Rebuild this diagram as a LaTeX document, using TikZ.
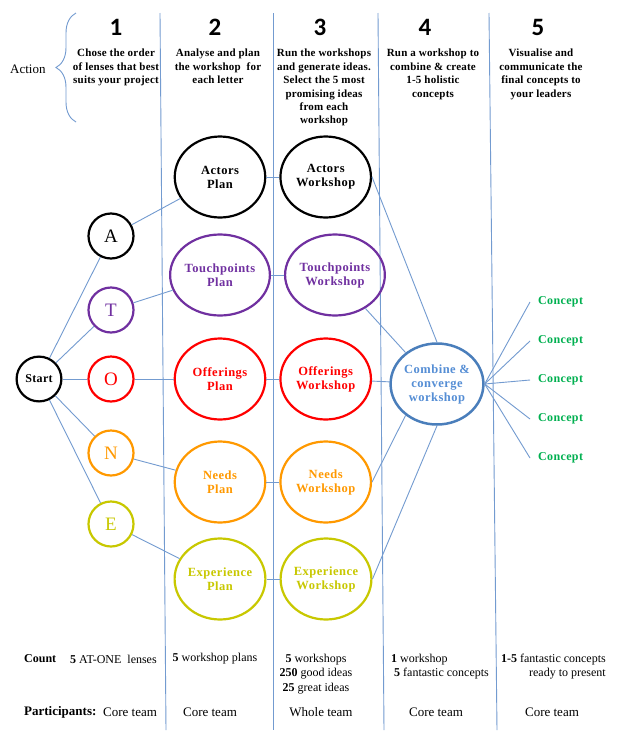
\documentclass[tikz,border=0pt]{standalone}
\usepackage{fontspec}
\setmainfont{Liberation Serif}
\newfontfamily\numfont{Carlito}
\usepackage{xcolor}
\definecolor{lnblue}{RGB}{115,155,208}
\definecolor{atpurple}{RGB}{112,48,160}
\definecolor{atred}{RGB}{255,0,0}
\definecolor{atorange}{RGB}{255,153,0}
\definecolor{atyellow}{RGB}{200,200,0}
\definecolor{atgreen}{RGB}{0,176,80}
\definecolor{combblue}{RGB}{74,126,187}
\definecolor{combtext}{RGB}{85,142,213}
\usetikzlibrary{positioning,shapes.geometric,decorations.pathreplacing}

\begin{document}
\begin{tikzpicture}[x=1pt,y=-1pt,
  lens/.style={circle,draw,line width=2.2pt,minimum size=45pt,inner sep=0pt,font=\fontsize{19}{19}\selectfont},
  oval/.style={ellipse,draw,line width=2.2pt,minimum width=90.5pt,minimum height=81pt,inner sep=0pt,align=center,
    font=\fontsize{12.5}{14}\selectfont\bfseries\addfontfeature{LetterSpace=4}},
  ln/.style={lnblue,line width=0.9pt},
  col/.style={align=center,inner sep=0pt,anchor=north,font=\fontsize{11}{13.4}\selectfont\bfseries\addfontfeature{LetterSpace=2}},
  num/.style={inner sep=0pt,font=\numfont\bfseries\fontsize{25}{25}\selectfont},
  cnt/.style={inner sep=0pt,font=\fontsize{12}{14.5}\selectfont},
  cpt/.style={anchor=west,inner xsep=8pt,inner ysep=2pt,atgreen,font=\fontsize{12}{12}\selectfont\bfseries\addfontfeature{LetterSpace=3}},
]
\fill[white] (0,0) rectangle (621,734);

% column rules and the action brace
\draw[ln] (160,13) -- (166,730);
\draw[ln] (273,13) -- (273,730);
\draw[ln] (378,13) -- (384,730);
\draw[ln] (489,13) -- (497,730);
\draw[ln,decorate,decoration={brace,amplitude=20pt,aspect=0.5}] (76,122) -- (76,13);
\node[anchor=west,inner sep=0pt,font=\fontsize{13}{13}\selectfont] (act) at (10,69) {Action};

\node[num] (n1) at (116,27) {1};
\node[num] (n2) at (215,27) {2};
\node[num] (n3) at (320,27) {3};
\node[num] (n4) at (425,27) {4};
\node[num] (n5) at (538,27) {5};

\node[col] (d1) at (116,49) {Chose the order\\of lenses that best\\suits your project};
\node[col] (d2) at (218,49) {Analyse and plan\\the workshop\ \ for\\each letter};
\node[col] (d3) at (324,49) {Run the workshops\\and generate ideas.\\Select the 5 most\\promising ideas\\from each\\workshop};
\node[col] (d4) at (433,49) {Run a workshop to\\combine \& create\\1-5 holistic\\concepts};
\node[col] (d5) at (541,49) {Visualise and\\communicate the\\final concepts to\\your leaders};

% lenses
\node[lens,minimum size=44.8pt,font=\fontsize{12}{12}\selectfont\bfseries\addfontfeature{LetterSpace=3}] (start) at (39,379) {Start};
\node[lens] (la) at (111,236) {A};
\node[lens,atpurple] (lt) at (111,310) {T};
\node[lens,atred] (lo) at (111,379) {O};
\node[lens,atorange] (lnn) at (111,453) {N};
\node[lens,atyellow] (le) at (111,524) {E};

% plans and workshops
\node[oval] (ap) at (220,177) {Actors\\Plan};
\node[oval,atpurple] (tp) at (220,275) {Touchpoints\\Plan};
\node[oval,atred] (op) at (220,379) {Offerings\\Plan};
\node[oval,atorange] (np) at (220,482) {Needs\\Plan};
\node[oval,atyellow] (ep) at (220,579) {Experience\\Plan};
\node[oval,right=13pt of ap] (aw) {Actors\\Workshop};
\node[oval,atpurple,right=13pt of tp] (tw) {Touchpoints\\Workshop};
\node[oval,atred,right=13pt of op] (ow) {Offerings\\Workshop};
\node[oval,atorange,right=13pt of np] (nw) {Needs\\Workshop};
\node[oval,atyellow,right=13pt of ep] (ew) {Experience\\Workshop};

\node[oval,draw=combblue,text=combtext,line width=2.5pt,minimum width=89.5pt] (comb) at (437,384) {Combine \&\\converge\\workshop};

\node[cpt] (c1) at (530,302) {Concept};
\node[cpt] (c2) at (530,341) {Concept};
\node[cpt] (c3) at (530,380) {Concept};
\node[cpt] (c4) at (530,419) {Concept};
\node[cpt] (c5) at (530,458) {Concept};

\draw[ln] (start) -- (la);
\draw[ln] (start) -- (lt);
\draw[ln] (start) -- (lo);
\draw[ln] (start) -- (lnn);
\draw[ln] (start) -- (le);
\draw[ln] (la) -- (ap);
\draw[ln] (lt) -- (tp);
\draw[ln] (lo) -- (op);
\draw[ln] (lnn) -- (np);
\draw[ln] (le) -- (ep);
\draw[ln] (ap) -- (aw);
\draw[ln] (tp) -- (tw);
\draw[ln] (op) -- (ow);
\draw[ln] (np) -- (nw);
\draw[ln] (ep) -- (ew);
\draw[ln] (aw.east) -- (comb.north);
\draw[ln] (tw) -- (comb.135);
\draw[ln] (ow) -- (comb);
\draw[ln] (nw.east) -- (comb.225);
\draw[ln] (ew.east) -- (comb.south);
\foreach \c in {c1,c2,c3,c4,c5}
  \draw[ln] (comb.east) -- (\c.west);

% count and participants rows
\node[cnt,anchor=west] (cl) at (24,659) {\textbf{Count}};
\node[cnt,anchor=west] (c1t) at (70,659) {\textbf{5} AT-ONE\ \ lenses};
\node[cnt] (c2t) at (215,659) {\textbf{5} workshop plans};
\node[cnt,align=center] (c3t) at (316,674) {\textbf{5} workshops\\\textbf{250} good ideas\\\textbf{25} great ideas};
\node[cnt,align=left,anchor=west] (c4t) at (391,666.5) {\textbf{1} workshop\\\ \textbf{5} fantastic concepts};
\node[cnt,align=right,anchor=east] (c5t) at (606,666.5) {\textbf{1-5} fantastic concepts\\ready to present};

\node[cnt,anchor=west,font=\fontsize{13}{13}\selectfont] (pl) at (24,712) {\textbf{Participants:}};
\node[cnt,anchor=west,font=\fontsize{13}{13}\selectfont] (p1) at (103,712) {Core team};
\node[cnt,font=\fontsize{13}{13}\selectfont] (p2) at (210,712) {Core team};
\node[cnt,font=\fontsize{13}{13}\selectfont] (p3) at (321,712) {Whole team};
\node[cnt,font=\fontsize{13}{13}\selectfont] (p4) at (436,712) {Core team};
\node[cnt,font=\fontsize{13}{13}\selectfont] (p5) at (552,712) {Core team};
\end{tikzpicture}
\end{document}
